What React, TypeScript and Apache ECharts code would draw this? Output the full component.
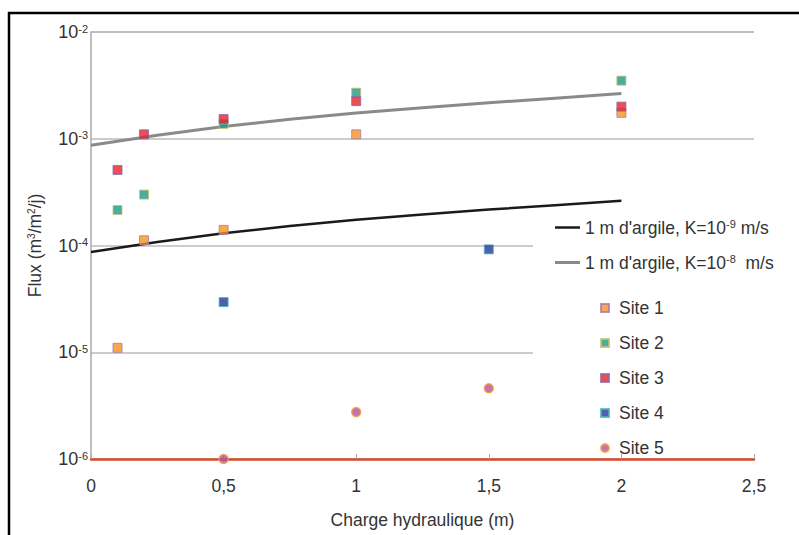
import React, { useEffect, useRef } from "react";
import * as echarts from "echarts";

const xTicks = [0, 0.5, 1, 1.5, 2, 2.5];
const lineX = [0, 0.25, 0.5, 0.75, 1, 1.25, 1.5, 1.75, 2];
const lineK9 = [8.7e-5, 1.08e-4, 1.3e-4, 1.52e-4, 1.74e-4, 1.95e-4, 2.17e-4, 2.38e-4, 2.62e-4];
const lineK8 = [8.7e-4, 1.08e-3, 1.3e-3, 1.52e-3, 1.74e-3, 1.95e-3, 2.17e-3, 2.4e-3, 2.65e-3];

const siteX = [0.1, 0.2, 0.5, 1, 2];
const site1 = [1.1e-5, 1.12e-4, 1.4e-4, 1.1e-3, 1.75e-3];
const site2 = [2.15e-4, 3.0e-4, 1.38e-3, 2.7e-3, 3.5e-3];
const site3 = [5.1e-4, 1.1e-3, 1.53e-3, 2.25e-3, 2.0e-3];
const site4X = [0.5, 1.5];
const site4 = [2.95e-5, 9.2e-5];
const site5X = [0.5, 1, 1.5];
const site5 = [1.0e-6, 2.75e-6, 4.6e-6];

const lineNames = ["K9", "K8"];
const siteNames = ["Site 1", "Site 2", "Site 3", "Site 4", "Site 5"];

const zip = (xs: number[], ys: number[]) => xs.map((x, i) => [x, ys[i]]);

export default function App() {
  const ref = useRef<HTMLDivElement>(null);
  useEffect(() => {
    if (!ref.current) return;
    const chart = echarts.init(ref.current, null, { renderer: "svg" });
    const font = "Liberation Sans, Arial, sans-serif";
    const FS = 17.5;
    const sup = { fontSize: 11, fontFamily: font, color: "#333", padding: [0, 0, 8, 0] };
    const txt = { fontSize: FS, fontFamily: font, color: "#333" };
    chart.setOption({
      animation: false,
      backgroundColor: "#fff",
      textStyle: { fontFamily: font },
      grid: { left: 91, right: 45, top: 32, bottom: 76 },
      xAxis: {
        type: "value",
        min: 0,
        max: 2.5,
        interval: 0.5,
        name: "Charge hydraulique (m)",
        nameLocation: "middle",
        nameGap: 52,
        nameTextStyle: { fontSize: FS, color: "#333", fontFamily: font },
        axisLine: { show: true, onZero: false, lineStyle: { color: "#d9482a", width: 2.5 } },
        axisTick: { show: true, inside: true, length: 5, lineStyle: { color: "#aaa" } },
        axisLabel: {
          margin: 18,
          fontSize: FS,
          color: "#333",
          fontFamily: font,
          formatter: (v: number) => (xTicks.includes(v) ? String(v).replace(".", ",") : ""),
        },
        splitLine: { show: false },
      },
      yAxis: {
        type: "log",
        logBase: 10,
        min: 1e-6,
        max: 1e-2,
        name: "{a|Flux (m}{s|3}{a|/m}{s|2}{a|/j)}",
        nameLocation: "middle",
        nameGap: 47,
        nameTextStyle: { rich: { a: { ...txt }, s: { ...sup, fontSize: 10 } } },
        axisLine: { show: true, lineStyle: { color: "#aaa", width: 1.5 } },
        axisTick: { show: false },
        axisLabel: {
          margin: 3,
          formatter: (v: number) => `{b|10}{s|-${Math.round(-Math.log10(v))}}`,
          rich: { b: { ...txt, fontSize: 18 }, s: { ...sup, fontSize: 11, padding: [0, 0, 7, 0] } },
        },
        splitLine: { show: true, lineStyle: { color: "#bbb", width: 1.5 } },
      },
      graphic: [
        { type: "rect", z: 1, shape: { x: 533, y: 205, width: 230, height: 246 }, style: { fill: "#fff" } },
        {
          type: "polyline",
          z: 10,
          shape: { points: [[9, 560], [9, 13], [820, 13]] },
          style: { stroke: "#000", lineWidth: 2.5, fill: "none" },
        },
      ],
      legend: [
        {
          data: [lineNames[0]],
          orient: "vertical",
          left: 555,
          top: 218,
          padding: 0,
          icon: "rect",
          itemWidth: 25,
          itemHeight: 2.5,
          formatter: () => "{a|1 m d'argile, K=10}{s|-9}{a| m/s}",
          textStyle: { rich: { a: { ...txt, lineHeight: 20 }, s: sup } },
        },
        {
          data: [lineNames[1]],
          orient: "vertical",
          left: 555,
          top: 253,
          padding: 0,
          icon: "rect",
          itemWidth: 25,
          itemHeight: 3,
          formatter: () => "{a|1 m d'argile, K=10}{s|-8}{a|  m/s}",
          textStyle: { rich: { a: { ...txt, lineHeight: 20 }, s: sup } },
        },
        {
          data: siteNames,
          orient: "vertical",
          left: 600,
          top: 298,
          padding: 0,
          itemWidth: 8,
          itemHeight: 8,
          itemGap: 15,
          textStyle: { ...txt, lineHeight: 20, padding: [0, 0, 0, 5] },
        },
      ],
      series: [
        {
          name: "K9",
          type: "line",
          data: zip(lineX, lineK9),
          symbol: "none",
          lineStyle: { color: "#1a1a1a", width: 2.5 },
          itemStyle: { color: "#1a1a1a" },
          z: 3,
        },
        {
          name: "K8",
          type: "line",
          data: zip(lineX, lineK8),
          symbol: "none",
          lineStyle: { color: "#8a8a8a", width: 3 },
          itemStyle: { color: "#8a8a8a" },
          z: 3,
        },
        {
          name: "Site 1",
          type: "scatter",
          symbol: "rect",
          symbolSize: 9,
          data: zip(siteX, site1),
          itemStyle: { color: "#f7941d", borderColor: "#a77ab0", borderWidth: 1 },
          z: 4,
        },
        {
          name: "Site 2",
          type: "scatter",
          symbol: "rect",
          symbolSize: 9,
          data: zip(siteX, site2),
          itemStyle: { color: "#1b9a86", borderColor: "#c8c070", borderWidth: 1 },
          z: 4,
        },
        {
          name: "Site 3",
          type: "scatter",
          symbol: "rect",
          symbolSize: 9,
          data: zip(siteX, site3),
          itemStyle: { color: "#e8202a", borderColor: "#8a6aa8", borderWidth: 1 },
          z: 5,
        },
        {
          name: "Site 4",
          type: "scatter",
          symbol: "rect",
          symbolSize: 9,
          data: zip(site4X, site4),
          itemStyle: { color: "#263896", borderColor: "#48b4c0", borderWidth: 1 },
          z: 4,
        },
        {
          name: "Site 5",
          type: "scatter",
          symbol: "circle",
          symbolSize: 9,
          data: zip(site5X, site5),
          itemStyle: { color: "#b0529e", borderColor: "#f79a3a", borderWidth: 1.5 },
          z: 4,
        },
      ],
    });
    return () => chart.dispose();
  }, []);
  return (
    <div
      ref={ref}
      style={{ position: "fixed", left: 0, top: 0, width: 799, height: 535 }}
    />
  );
}
